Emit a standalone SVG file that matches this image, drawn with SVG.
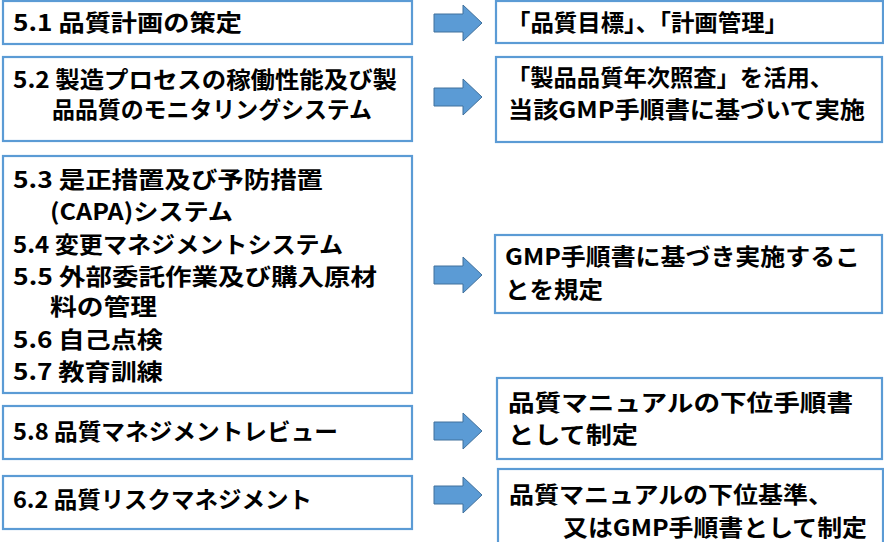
<svg xmlns="http://www.w3.org/2000/svg" width="884" height="542" viewBox="0 0 884 542">
<style>
.box{fill:#ffffff;stroke:#5b9bd5;stroke-width:2.2}
.t{font-family:"Noto Sans CJK JP","Noto Sans",sans-serif;font-weight:700;font-size:23px;fill:#000000}
.arr{fill:#5b9bd5;stroke:#41719c;stroke-width:1}
</style>
<defs>
<polygon id="arrow" class="arr" points="0,-9 29,-9 29,-18 48,0 29,18 29,9 0,9"/>
</defs>
<rect x="0" y="0" width="884" height="542" fill="#ffffff"/>
<g id="connectors">
<use href="#arrow" x="434" y="23"/>
<use href="#arrow" x="434" y="97"/>
<use href="#arrow" x="434" y="275"/>
<use href="#arrow" x="434" y="431"/>
<use href="#arrow" x="434" y="495"/>
</g>
<g id="n51">
<rect class="box" x="3" y="1" width="409" height="43"/>
<text class="t" x="13" y="31" textLength="229" lengthAdjust="spacingAndGlyphs">5.1 品質計画の策定</text>
</g>
<g id="n52">
<rect class="box" x="3" y="57" width="409" height="84"/>
<text class="t" x="13" y="88" textLength="384" lengthAdjust="spacingAndGlyphs">5.2 製造プロセスの稼働性能及び製</text>
<text class="t" x="52" y="118" textLength="320" lengthAdjust="spacingAndGlyphs">品品質のモニタリングシステム</text>
</g>
<g id="n53">
<rect class="box" x="3" y="156" width="409" height="237"/>
<text class="t" x="13" y="188" textLength="310" lengthAdjust="spacingAndGlyphs">5.3 是正措置及び予防措置</text>
<text class="t" x="50" y="220" textLength="183" lengthAdjust="spacingAndGlyphs">(CAPA)システム</text>
<text class="t" x="13" y="253" textLength="330" lengthAdjust="spacingAndGlyphs">5.4 変更マネジメントシステム</text>
<text class="t" x="13" y="285" textLength="364" lengthAdjust="spacingAndGlyphs">5.5 外部委託作業及び購入原材</text>
<text class="t" x="50" y="315" textLength="107" lengthAdjust="spacingAndGlyphs">料の管理</text>
<text class="t" x="13" y="348" textLength="150" lengthAdjust="spacingAndGlyphs">5.6 自己点検</text>
<text class="t" x="13" y="380" textLength="150" lengthAdjust="spacingAndGlyphs">5.7 教育訓練</text>
</g>
<g id="n58">
<rect class="box" x="3" y="406" width="409" height="53"/>
<text class="t" x="13" y="440" textLength="325" lengthAdjust="spacingAndGlyphs">5.8 品質マネジメントレビュー</text>
</g>
<g id="n62">
<rect class="box" x="3" y="476" width="409" height="53"/>
<text class="t" x="13" y="508" textLength="299" lengthAdjust="spacingAndGlyphs">6.2 品質リスクマネジメント</text>
</g>
<g id="r1">
<rect class="box" x="496" y="1" width="387" height="42"/>
<text class="t" x="507" y="31" textLength="281" lengthAdjust="spacingAndGlyphs">「品質目標」、「計画管理」</text>
</g>
<g id="r2">
<rect class="box" x="496" y="57" width="386" height="85"/>
<text class="t" x="507" y="86" textLength="326" lengthAdjust="spacingAndGlyphs">「製品品質年次照査」を活用、</text>
<text class="t" x="508" y="118" textLength="357" lengthAdjust="spacingAndGlyphs">当該GMP手順書に基づいて実施</text>
</g>
<g id="r3">
<rect class="box" x="495" y="235" width="387" height="78"/>
<text class="t" x="505" y="265" textLength="355" lengthAdjust="spacingAndGlyphs">GMP手順書に基づき実施するこ</text>
<text class="t" x="505" y="298" textLength="98" lengthAdjust="spacingAndGlyphs">とを規定</text>
</g>
<g id="r4">
<rect class="box" x="497" y="378" width="385" height="81"/>
<text class="t" x="508" y="411" textLength="345" lengthAdjust="spacingAndGlyphs">品質マニュアルの下位手順書</text>
<text class="t" x="508" y="443" textLength="130" lengthAdjust="spacingAndGlyphs">として制定</text>
</g>
<g id="r5">
<rect class="box" x="498" y="469" width="385" height="90"/>
<text class="t" x="509" y="503" textLength="324" lengthAdjust="spacingAndGlyphs">品質マニュアルの下位基準、</text>
<text class="t" x="563" y="536" textLength="304" lengthAdjust="spacingAndGlyphs">又はGMP手順書として制定</text>
</g>
</svg>
